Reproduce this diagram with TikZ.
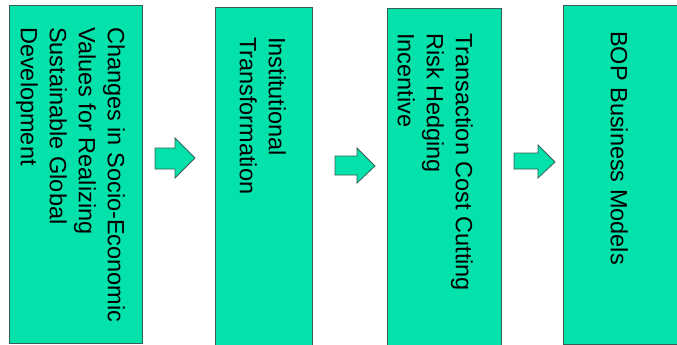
\documentclass[tikz,border=0pt]{standalone}
\usepackage{fontspec}
\setmainfont{Liberation Sans}
\definecolor{boxfill}{RGB}{3,226,170}
\definecolor{boxline}{RGB}{55,95,85}
\tikzset{
  box/.style={draw=boxline, fill=boxfill, line width=0.9pt, inner sep=0pt, anchor=north west},
  vtext/.style={rotate=-90, anchor=north west, inner sep=0pt, align=left,
     font=\fontsize{23.5pt}{29pt}\selectfont, text=black},
  barrow/.style={draw=boxline, fill=boxfill, line width=0.8pt, line join=miter}
}
\begin{document}
\begin{tikzpicture}[x=1pt,y=-1pt]
\useasboundingbox (0,0) rectangle (677,345);
% boxes
\node[box, minimum width=133pt, minimum height=338pt] (b1) at (9,5) {};
\node[box, minimum width=97pt, minimum height=345pt] (b2) at (215,7) {};
\node[box, minimum width=114pt, minimum height=345pt] (b3) at (387,8) {};
\node[box, minimum width=120pt, minimum height=339pt] (b4) at (563,5) {};
% texts
\node[vtext] (t1) at (125,27) {Changes in Socio-Economic\\Values for Realizing\\Sustainable Global\\Development};
\node[vtext] (t2) at (286,37) {Institutional\\Transformation};
\node[vtext] (t3) at (473,33) {Transaction Cost Cutting\\Risk Hedging\\Incentive};
\node[vtext] (t4) at (628,31) {BOP Business Models};
% block arrows
\draw[barrow] (155,148) -- (175,148) -- (175,138) -- (195,158) -- (175,178) -- (175,169) -- (155,169) -- cycle;
\draw[barrow] (335,156) -- (357,156) -- (357,148) -- (375,166) -- (357,183) -- (357,175) -- (335,175) -- cycle;
\draw[barrow] (514,153) -- (538,153) -- (538,145) -- (555,162) -- (538,178) -- (538,169) -- (514,169) -- cycle;
\end{tikzpicture}
\end{document}
